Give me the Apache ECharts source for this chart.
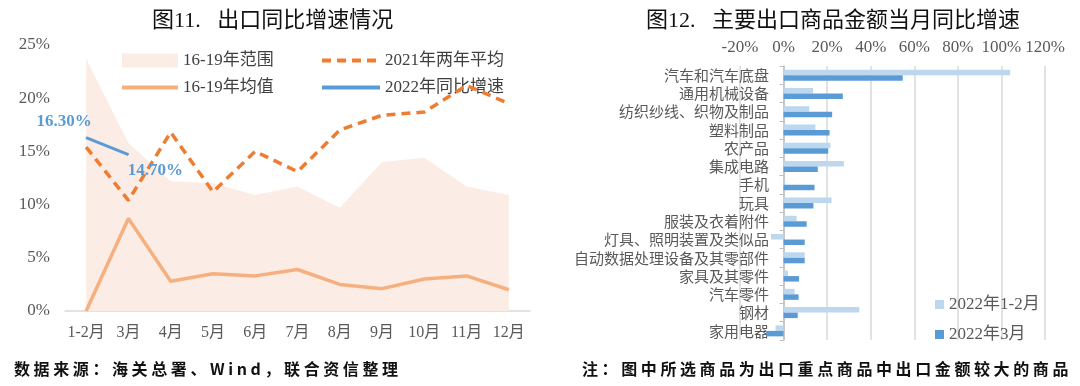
<!DOCTYPE html>
<html><head><meta charset="utf-8">
<script src="https://cdn.jsdelivr.net/npm/echarts@6/dist/echarts.min.js"></script>
<style>
html,body{margin:0;padding:0;background:#fff;}
#c{width:1080px;height:386px;position:absolute;left:0;top:0;}
.foot{position:absolute;top:356px;font-family:'Noto Sans CJK SC',sans-serif;font-weight:700;font-size:16px;color:#111;letter-spacing:3.6px;white-space:nowrap;}
</style></head>
<body>
<div id="c"></div>
<div class="foot" style="left:14px;">数据来源：海关总署、Wind，联合资信整理</div>
<div class="foot" style="right:8px;">注：图中所选商品为出口重点商品中出口金额较大的商品</div>
<script>
// ---- Left chart data ----
const months = ['1-2月','3月','4月','5月','6月','7月','8月','9月','10月','11月','12月'];
const range1619Max = [23.7, 15.8, 12.2, 12.0, 10.9, 11.7, 9.7, 14.0, 14.4, 11.7, 10.9];
const avg1619 = [0, 8.7, 2.8, 3.5, 3.3, 3.9, 2.5, 2.1, 3.0, 3.3, 2.0];
const avg2021TwoYear = [15.4, 10.4, 16.8, 11.2, 15.0, 13.1, 17.0, 18.4, 18.7, 21.2, 19.5];
const yoy2022 = [16.3, 14.7];
const yoy2022Labels = ['16.30%', '14.70%'];
const leftYTicks = [0, 5, 10, 15, 20, 25];

// ---- Right chart data ----
const goods = ['汽车和汽车底盘','通用机械设备','纺织纱线、织物及制品','塑料制品','农产品','集成电路','手机','玩具','服装及衣着附件','灯具、照明装置及类似品','自动数据处理设备及其零部件','家具及其零件','汽车零件','钢材','家用电器'];
const jan2022 = [104, 13.5, 11.8, 14.6, 21.5, 27.7, 0.8, 22.0, 6.0, -5.8, 9.7, 2.0, 5.1, 34.8, -3.7];
const mar2022 = [54.7, 27.2, 22.3, 21.1, 20.5, 15.7, 14.2, 13.7, 10.6, 9.7, 9.7, 7.1, 6.9, 6.5, -8.0];
const rightXTicks = [-20, 0, 20, 40, 60, 80, 100, 120];

const serif = "'Liberation Serif','Noto Sans CJK SC',serif";
const gray = '#595959';
const hideSym = {opacity: 0};

const chart = echarts.init(document.getElementById('c'));
chart.setOption({
  animation: false,
  title: [
    {text: '图11.   出口同比增速情况', left: 147, top: 5, textStyle: {fontFamily: serif, fontSize: 22, fontWeight: 'normal', color: '#111'}},
    {text: '图12.   主要出口商品金额当月同比增速', left: 641, top: 5, textStyle: {fontFamily: serif, fontSize: 22, fontWeight: 'normal', color: '#111'}}
  ],
  legend: [
    {data: [{name: '16-19年范围', icon: 'rect', itemStyle: {opacity: 1}}, {name: '16-19年均值', itemStyle: hideSym}],
     left: 115, top: 47, orient: 'vertical', itemWidth: 56, itemHeight: 14, itemGap: 10,
     lineStyle: {width: 4}, textStyle: {fontFamily: serif, fontSize: 17, color: '#404040'}},
    {data: [{name: '2021年两年平均', itemStyle: hideSym}, {name: '2022年同比增速', itemStyle: hideSym}],
     left: 315, top: 47, orient: 'vertical', itemWidth: 58, itemHeight: 14, itemGap: 10,
     lineStyle: {width: 4}, textStyle: {fontFamily: serif, fontSize: 17, color: '#404040'}},
    {data: ['2022年1-2月', '2022年3月'], left: 930, top: 291, orient: 'vertical', itemWidth: 9, itemHeight: 9, itemGap: 13, icon: 'rect',
     textStyle: {fontFamily: serif, fontSize: 17, color: gray}}
  ],
  grid: [
    {left: 65, right: 550, top: 45, bottom: 75},
    {left: 740, right: 35, top: 66, bottom: 46}
  ],
  xAxis: [
    {type: 'category', gridIndex: 0, data: months, boundaryGap: true,
     axisLine: {lineStyle: {color: '#D9D9D9', width: 1.5}}, axisTick: {show: false},
     axisLabel: {fontFamily: serif, fontSize: 16, color: gray, margin: 14, interval: 0}},
    {type: 'value', gridIndex: 1, position: 'top', min: rightXTicks[0], max: rightXTicks[rightXTicks.length - 1], interval: 20,
     axisLine: {show: false}, axisTick: {show: false},
     splitLine: {lineStyle: {color: '#D9D9D9', width: 1.5}},
     axisLabel: {fontFamily: serif, fontSize: 17, color: gray, margin: 10, formatter: '{value}%'}}
  ],
  yAxis: [
    {type: 'value', gridIndex: 0, min: leftYTicks[0], max: leftYTicks[leftYTicks.length - 1], interval: 5,
     axisLine: {show: false}, axisTick: {show: false}, splitLine: {show: false},
     axisLabel: {fontFamily: serif, fontSize: 17, color: gray, margin: 15, formatter: '{value}%'}},
    {type: 'category', gridIndex: 1, data: goods, inverse: true,
     axisLine: {onZero: true, lineStyle: {color: '#BFBFBF', width: 1.5}},
     axisTick: {show: true, length: 4, interval: 0, lineStyle: {color: '#BFBFBF'}},
     axisLabel: {fontFamily: "'Noto Sans CJK SC',sans-serif", fontSize: 15, color: gray, margin: -29, interval: 0}}
  ],
  series: [
    {name: '16-19年范围', type: 'line', xAxisIndex: 0, yAxisIndex: 0, data: range1619Max, symbol: 'none',
     lineStyle: {width: 0, color: '#FBEDE5'}, itemStyle: {color: '#FBEDE5'}, areaStyle: {color: '#FBEDE5', opacity: 1}, z: 1},
    {name: '16-19年均值', type: 'line', xAxisIndex: 0, yAxisIndex: 0, data: avg1619, symbol: 'none',
     lineStyle: {width: 3.5, color: '#F6B07F'}, itemStyle: {color: '#F6B07F'}, z: 3},
    {name: '2021年两年平均', type: 'line', xAxisIndex: 0, yAxisIndex: 0, data: avg2021TwoYear, symbol: 'none',
     lineStyle: {width: 3.5, color: '#ED7D31', type: [9, 6]}, itemStyle: {color: '#ED7D31'}, z: 4},
    {name: '2022年同比增速', type: 'line', xAxisIndex: 0, yAxisIndex: 0, symbol: 'none', showSymbol: true,
     data: yoy2022.map((v, i) => ({value: v, symbol: 'circle', symbolSize: 1,
       label: {show: true, formatter: yoy2022Labels[i], position: i === 0 ? 'top' : 'bottom',
               offset: i === 0 ? [-22, -2] : [27, 2],
               fontFamily: serif, fontSize: 17, fontWeight: 'bold', color: '#5B9BD5'}})),
     lineStyle: {width: 3, color: '#5B9BD5'}, itemStyle: {color: '#5B9BD5'}, z: 5},
    {name: '2022年1-2月', type: 'bar', xAxisIndex: 1, yAxisIndex: 1, data: jan2022, barWidth: 5.5, barGap: '0%',
     itemStyle: {color: '#BDD7EE'}},
    {name: '2022年3月', type: 'bar', xAxisIndex: 1, yAxisIndex: 1, data: mar2022, barWidth: 5.5, barGap: '0%',
     itemStyle: {color: '#5B9BD5'}}
  ]
});
</script>
</body></html>
